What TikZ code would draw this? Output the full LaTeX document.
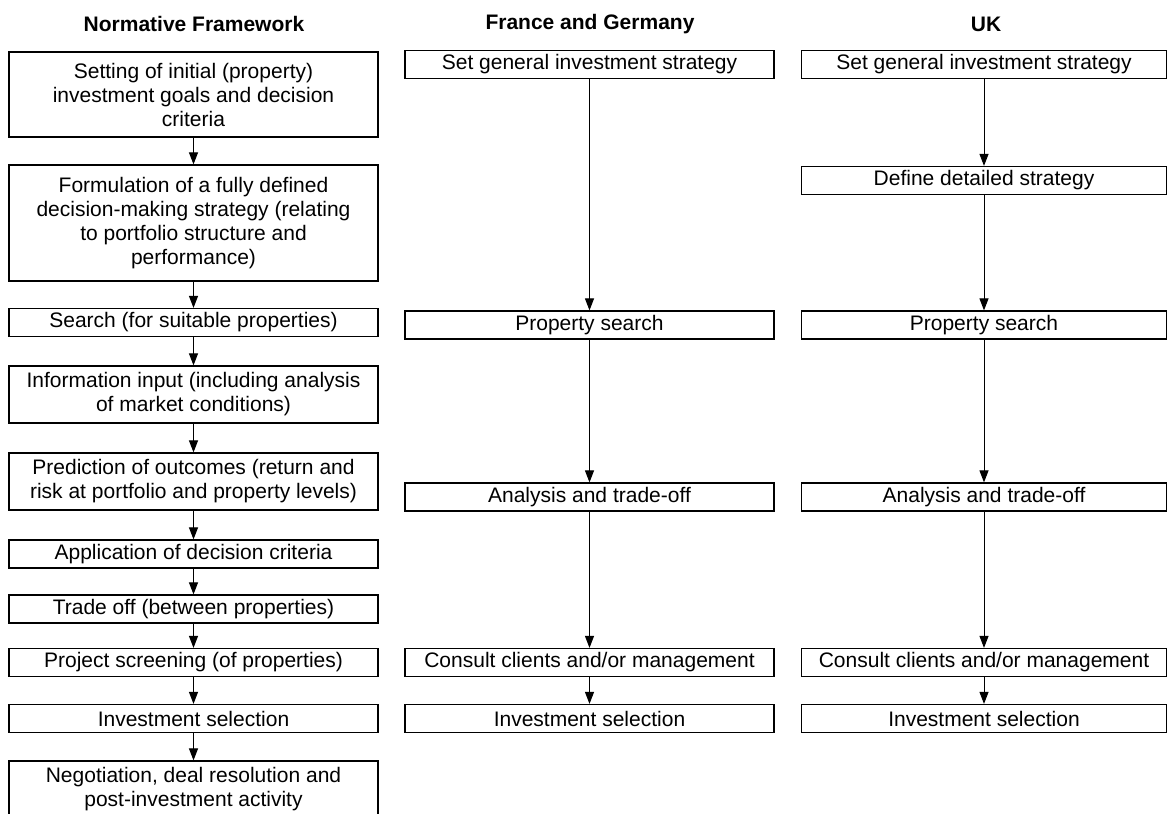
\documentclass[tikz,border=0pt]{standalone}
\usepackage{fontspec}
\setmainfont{Liberation Sans}
\usetikzlibrary{arrows.meta}
\tikzset{
  box/.style={draw, line width=1.2pt, align=center, inner sep=0pt, minimum height=28pt},
  lbox/.style={box, minimum width=369pt},
  mbox/.style={box, minimum width=369pt},
  rbox/.style={box, minimum width=365pt},
  head/.style={font=\fontsize{21}{24}\selectfont\bfseries}
}
\begin{document}
\begin{tikzpicture}[x=1pt, y=-1pt, >={Triangle[width=9pt,length=12pt]},
  every node/.append style={font=\fontsize{21}{24}\selectfont}]
  \clip (0,0) rectangle (1168,814);
  \fill[white] (0,0) rectangle (1168,814);
  \node[head] (H1) at (194, 24) {Normative Framework};
  \node[head] (H2) at (590, 24) {France and Germany};
  \node[head] (H3) at (986, 24) {UK};

  \node[lbox, minimum height=85pt] (A1) at (193.5, 94.5) {Setting of initial (property)\\investment goals and decision\\criteria};
  \node[lbox, minimum height=116pt] (A2) at (193.5, 223) {Formulation of a fully defined\\decision-making strategy (relating\\to portfolio structure and\\performance)};
  \node[lbox] (A3) at (193.5, 322.5) {Search (for suitable properties)};
  \node[lbox, minimum height=57pt] (A4) at (193.5, 394.5) {Information input (including analysis\\of market conditions)};
  \node[lbox, minimum height=57pt] (A5) at (193.5, 481.5) {Prediction of outcomes (return and\\risk at portfolio and property levels)};
  \node[lbox] (A6) at (193.5, 554) {Application of decision criteria};
  \node[lbox] (A7) at (193.5, 609) {Trade off (between properties)};
  \node[lbox] (A8) at (193.5, 662.5) {Project screening (of properties)};
  \node[lbox] (A9) at (193.5, 718.5) {Investment selection};
  \node[lbox, minimum height=57pt] (A10) at (193.5, 789.5) {Negotiation, deal resolution and\\post-investment activity};

  \node[mbox] (B1) at (589.5, 64.5) {Set general investment strategy};
  \node[mbox] (B2) at (589.5, 325) {Property search};
  \node[mbox] (B3) at (589.5, 497) {Analysis and trade-off};
  \node[mbox] (B4) at (589.5, 662.5) {Consult clients and/or management};
  \node[mbox] (B5) at (589.5, 718.5) {Investment selection};

  \node[rbox] (C1) at (984, 64.5) {Set general investment strategy};
  \node[rbox] (C2) at (984, 180.5) {Define detailed strategy};
  \node[rbox] (C3) at (984, 325) {Property search};
  \node[rbox] (C4) at (984, 497) {Analysis and trade-off};
  \node[rbox] (C5) at (984, 662.5) {Consult clients and/or management};
  \node[rbox] (C6) at (984, 718.5) {Investment selection};

  \draw[->, line width=1pt] (A1) -- (A2);
  \draw[->, line width=1pt] (A2) -- (A3);
  \draw[->, line width=1pt] (A3) -- (A4);
  \draw[->, line width=1pt] (A4) -- (A5);
  \draw[->, line width=1pt] (A5) -- (A6);
  \draw[->, line width=1pt] (A6) -- (A7);
  \draw[->, line width=1pt] (A7) -- (A8);
  \draw[->, line width=1pt] (A8) -- (A9);
  \draw[->, line width=1pt] (A9) -- (A10);

  \draw[->, line width=1pt] (B1) -- (B2);
  \draw[->, line width=1pt] (B2) -- (B3);
  \draw[->, line width=1pt] (B3) -- (B4);
  \draw[->, line width=1pt] (B4) -- (B5);

  \draw[->, line width=1pt] (C1) -- (C2);
  \draw[->, line width=1pt] (C2) -- (C3);
  \draw[->, line width=1pt] (C3) -- (C4);
  \draw[->, line width=1pt] (C4) -- (C5);
  \draw[->, line width=1pt] (C5) -- (C6);
\end{tikzpicture}
\end{document}
